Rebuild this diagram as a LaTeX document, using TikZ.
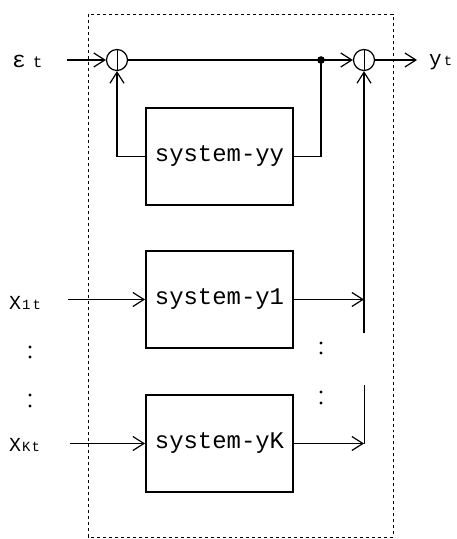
\documentclass[tikz,border=0pt]{standalone}
\usepackage{fontspec}
\setmainfont{Liberation Mono}
\usetikzlibrary{arrows.meta}
\begin{document}
\begin{tikzpicture}[x=1bp,y=-1bp,
 blk/.style={draw,line width=2bp,minimum width=147bp,minimum height=97bp,inner sep=0,font=\fontsize{24}{24}\selectfont},
 sumj/.style={circle,draw,line width=1.2bp,minimum size=21bp,inner sep=0},
 arr/.style={-{Straight Barb[length=11bp,width=14bp,line width=1.2bp]}, line width=1.1bp},
 ln/.style={line width=1.1bp},
 thinln/.style={line width=0.8bp},
 lbl/.style={inner sep=0}]
\useasboundingbox (0,0) rectangle (457,539);
\draw[dashed, line width=0.7bp] (88,14) rectangle (393,537);
% summing junctions
\node[sumj] (s1) at (117,60) {};
\node[sumj] (s2) at (364,60) {};
\draw[thinln] (s1.north) -- (s1.south);
\draw[thinln] (s2.north) -- (s2.south);
\coordinate (d) at (321,60);
\fill (d) circle (3.8bp);
% blocks
\node[blk] (yy) at (219.5,156.5) {system-yy};
\node[blk] (y1) at (219.5,299.5) {system-y1};
\node[blk] (yK) at (219.5,443.5) {system-yK};
% labels
\node[lbl,anchor=west] (eps) at (12,61) {{\fontsize{23}{23}\selectfont ε}\hspace{7bp}{\fontsize{16}{16}\selectfont t}};
\node[lbl,anchor=west] (yt) at (429,62) {{\fontsize{21}{21}\selectfont y}\hspace{2bp}{\fontsize{14}{14}\selectfont t}};
\node[lbl,anchor=west] (x1) at (9,303) {{\fontsize{20}{20}\selectfont X}\hspace{1bp}{\fontsize{14}{14}\selectfont 1\hspace{2bp}t}};
\node[lbl,anchor=west] (xK) at (9,445) {{\fontsize{20}{20}\selectfont X}\hspace{1bp}{\fontsize{14}{14}\selectfont K\hspace{1bp}t}};
% main line
\coordinate (ein) at (67,60);
\coordinate (yout) at (417,60);
\draw[arr] (ein) -- (s1.west);
\draw[ln,line width=1.5bp] (s1.east) -- (d);
\draw[arr] (d) -- (s2.west);
\draw[arr,line width=1.5bp] (s2.east) -- (yout);
% feedback system-yy
\draw[arr] (yy.west) -| (s1.south);
\draw[ln] (yy.east) -| (d);
% inputs
\coordinate (x1in) at (68,299.5);
\coordinate (xKin) at (70,443.5);
\draw[arr] (x1in) -- (y1.west);
\draw[arr] (xKin) -- (yK.west);
% outputs
\coordinate (j1) at (364,299.5);
\coordinate (jK) at (364,443.5);
\coordinate (g1) at (364,385);
\coordinate (g2) at (364,333);
\draw[arr] (y1.east) -- (j1);
\draw[arr,line width=1.4bp] (yK.east) -- (jK);
\draw[thinln] (jK) -- (g1);
\draw[arr] (g2) -- (s2.south);
% dots
\foreach \p in {(30,347),(30,357),(30,395),(30,406),(321,343),(321,353),(321,392),(321,403)}
  \fill \p circle (1.7bp);
\end{tikzpicture}
\end{document}
